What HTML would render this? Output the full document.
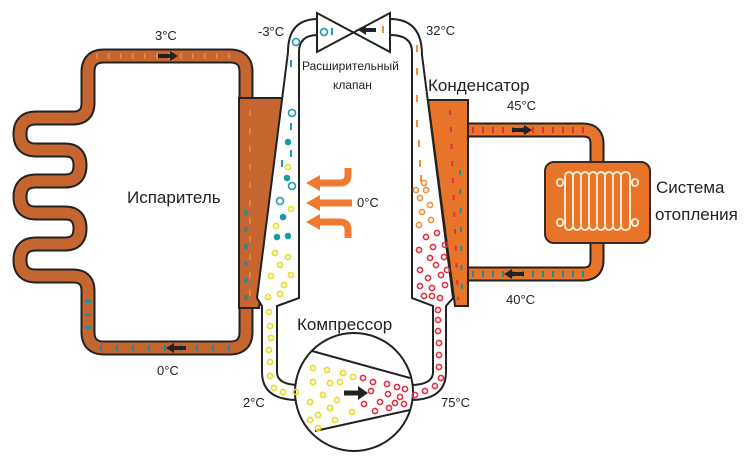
<!DOCTYPE html>
<html><head><meta charset="utf-8"><style>
html,body{margin:0;padding:0;background:#fff;width:750px;height:465px;overflow:hidden}
svg text{font-family:"Liberation Sans",sans-serif;fill:#222}
</style></head><body>
<svg id="s" width="750" height="465" viewBox="0 0 750 465" xmlns="http://www.w3.org/2000/svg">
<!-- left loop -->
<g fill="none" stroke-linejoin="round">
<path d="M246,110 L246,72 Q246,56 230,56 L104,56 Q88,56 88,72 L88,103 Q88,118 73,118 L36,118 Q20,118 20,134 Q20,150 36,150 L65,150 Q80,150 80,165.5 Q80,181 65,181 L36,181 Q20,181 20,197 Q20,213 36,213 L65,213 Q80,213 80,228.5 Q80,244 65,244 L36,244 Q20,244 20,260 Q20,276 36,276 L73,276 Q88,276 88,291 L88,332 Q88,348 104,348 L230,348 Q246,348 246,332 L246,290" stroke="#222" stroke-width="15"/>
<path d="M246,110 L246,72 Q246,56 230,56 L104,56 Q88,56 88,72 L88,103 Q88,118 73,118 L36,118 Q20,118 20,134 Q20,150 36,150 L65,150 Q80,150 80,165.5 Q80,181 65,181 L36,181 Q20,181 20,197 Q20,213 36,213 L65,213 Q80,213 80,228.5 Q80,244 65,244 L36,244 Q20,244 20,260 Q20,276 36,276 L73,276 Q88,276 88,291 L88,332 Q88,348 104,348 L230,348 Q246,348 246,332 L246,290" stroke="#c5652f" stroke-width="11"/>
<path d="M96,56 L240,56" stroke="#e8803a" stroke-width="6" stroke-dasharray="2 10"/>
<path d="M100,348 L240,348" stroke="#1a8f9a" stroke-width="6" stroke-dasharray="2 14"/>
<path d="M88,300 L88,335" stroke="#1a8f9a" stroke-width="6" stroke-dasharray="3 10"/>
</g>
<polygon points="239,98 283,98 259,308 239,308" fill="#c5652f" stroke="#222" stroke-width="2"/>
<path d="M246,110 L246,300" stroke="#c5652f" stroke-width="11"/>
<path d="M250,110 L250,300" stroke="#e8803a" stroke-width="2" stroke-dasharray="6 12"/>
<path d="M246,210 L246,300" stroke="#1a8f9a" stroke-width="3" stroke-dasharray="5 12"/>
<path d="M158,56 L172,56" stroke="#222" stroke-width="4"/><polygon points="170,51 178,56 170,61" fill="#222"/>
<path d="M186,348 L172,348" stroke="#222" stroke-width="4"/><polygon points="174,343 166,348 174,353" fill="#222"/>

<!-- right loop -->
<g fill="none">
<path d="M466,130 L583,130 Q597,130 597,144 L597,164" stroke="#222" stroke-width="15"/>
<path d="M466,130 L583,130 Q597,130 597,144 L597,164" stroke="#e8742a" stroke-width="11"/>
<path d="M597,241 L597,260 Q597,274 583,274 L466,274" stroke="#222" stroke-width="15"/>
<path d="M597,241 L597,260 Q597,274 583,274 L466,274" stroke="#e8742a" stroke-width="11"/>
<path d="M472,130 L590,130" stroke="#e03040" stroke-width="6" stroke-dasharray="2 8"/>
<path d="M472,274 L590,274" stroke="#1a8f9a" stroke-width="6" stroke-dasharray="2 8"/>
</g>
<path d="M512,130 L526,130" stroke="#222" stroke-width="4"/><polygon points="524,125 532,130 524,135" fill="#222"/>
<path d="M524,274 L510,274" stroke="#222" stroke-width="4"/><polygon points="512,269 504,274 512,279" fill="#222"/>
<polygon points="428,100 468,100 468,306 455,306" fill="#e8742a" stroke="#222" stroke-width="2"/>
<path d="M450,110 L458,300" stroke="#e03040" stroke-width="2" stroke-dasharray="5 12"/>
<path d="M460,170 L462,300" stroke="#1a8f9a" stroke-width="2" stroke-dasharray="5 14"/>
<rect x="545" y="162" width="105" height="81" rx="9" fill="#e8742a" stroke="#3a2a20" stroke-width="2"/>
<g fill="none" stroke="#fde8c8" stroke-width="2">
<rect x="557" y="179" width="6" height="7" rx="3"/><rect x="632" y="179" width="6" height="7" rx="3"/>
<rect x="557" y="219" width="6" height="7" rx="3"/><rect x="632" y="219" width="6" height="7" rx="3"/>
<rect x="565" y="172" width="8" height="58" rx="4"/><rect x="573" y="172" width="8" height="58" rx="4"/>
<rect x="581" y="172" width="8" height="58" rx="4"/><rect x="589" y="172" width="8" height="58" rx="4"/>
<rect x="597" y="172" width="8" height="58" rx="4"/><rect x="605" y="172" width="8" height="58" rx="4"/>
<rect x="613" y="172" width="8" height="58" rx="4"/><rect x="621" y="172" width="9" height="58" rx="4"/>
</g>

<!-- central tubes -->
<path d="M318,19 Q288,19 288,52 L257,298 L262,306 L262,372 Q262,400 298,400 L300,385 Q277,385 277,372 L277,306 L299,298 L299,52 Q299,35 318,35 Z" fill="#fff" stroke="#222" stroke-width="2"/>
<path d="M390,19 Q422,19 422,55 L453,298 L446,306 L446,372 Q446,400 410,400 L410,385 Q433,385 433,372 L433,306 L412,298 L412,52 Q412,35 390,35 Z" fill="#fff" stroke="#222" stroke-width="2"/>
<polygon points="317,13 317,52 390,13 390,52" fill="#fff" stroke="#222" stroke-width="2"/>
<path d="M376,30 L364,30" stroke="#222" stroke-width="4"/><polygon points="366,25 358,30 366,35" fill="#222"/>
<circle cx="354" cy="392" r="59" fill="#fff" stroke="#222" stroke-width="2"/>
<line x1="312" y1="351" x2="410" y2="378" stroke="#222" stroke-width="2"/>
<line x1="315" y1="431" x2="410" y2="410" stroke="#222" stroke-width="2"/>
<path d="M344,393 L360,393" stroke="#222" stroke-width="5"/><polygon points="358,386 368,393 358,400" fill="#222"/>
<g id="dots"></g>

<!-- air arrows -->
<g fill="none" stroke="#f07a30" stroke-width="7">
<path d="M318,183 L340,183 Q348,183 348,175 L348,168"/>
<path d="M318,203 L352,203"/>
<path d="M318,222 L340,222 Q348,222 348,230 L348,238"/>
</g>
<g fill="#f07a30"><polygon points="306,183 320,175 320,191"/><polygon points="306,203 320,195 320,211"/><polygon points="306,222 320,214 320,230"/></g>

<!-- labels -->
<text x="155" y="40" font-size="13">3°C</text>
<text x="258" y="36" font-size="13">-3°C</text>
<text x="426" y="35" font-size="13">32°C</text>
<text x="302" y="70" font-size="12">Расширительный</text>
<text x="333" y="89" font-size="12">клапан</text>
<text x="428" y="91" font-size="17">Конденсатор</text>
<text x="507" y="110" font-size="13">45°C</text>
<text x="656" y="193" font-size="17">Система</text>
<text x="655" y="220" font-size="17">отопления</text>
<text x="506" y="304" font-size="13">40°C</text>
<text x="127" y="203" font-size="17">Испаритель</text>
<text x="357" y="207" font-size="13">0°C</text>
<text x="297" y="330" font-size="17">Компрессор</text>
<text x="243" y="407" font-size="13">2°C</text>
<text x="441" y="407" font-size="13">75°C</text>
<text x="157" y="375" font-size="13">0°C</text>
</svg>
<script>
var g=document.getElementById('dots'),NS='http://www.w3.org/2000/svg';
function c(x,y,col,r,fill){var e=document.createElementNS(NS,'circle');e.setAttribute('cx',x);e.setAttribute('cy',y);e.setAttribute('r',r||2.6);e.setAttribute('fill',fill?col:'none');e.setAttribute('stroke',col);e.setAttribute('stroke-width',1.6);g.appendChild(e);}
function d(x,y,col,h){var e=document.createElementNS(NS,'line');e.setAttribute('x1',x);e.setAttribute('y1',y);e.setAttribute('x2',x);e.setAttribute('y2',y+(h||7));e.setAttribute('stroke',col);e.setAttribute('stroke-width',2);g.appendChild(e);}
var T='#1a9aaa',Y='#e6dc20',R='#e03040',O='#e8923a';
c(296,42,T,3.5);c(324,32,T,3.5);d(332,28,T);d(291,60,T);
c(292,113,T,3.5);d(291,123,T);c(288,142,T,2.5,1);d(291,150,T);d(282,160,T);c(288,167,Y);c(287,178,T,2.5,1);c(292,186,T,3.5);c(280,201,T,3.5);c(291,209,Y);c(283,217,T,2.5,1);c(276,226,Y);c(277,237,T,2.5,1);c(288,236,T,2.5,1);
var yl=[[275,253],[288,257],[280,265],[291,275],[271,276],[284,285],[268,297],[280,294],[269,312],[270,326],[271,338],[269,350],[270,362],[270,376],[274,388],[283,392],[296,392],[313,368],[327,370],[313,382],[330,383],[343,373],[340,382],[310,402],[323,395],[330,408],[318,415],[337,400],[310,420],[335,420],[352,412],[318,428],[353,377]];
yl.forEach(function(p){c(p[0],p[1],Y);});
var rd=[[363,378],[373,382],[387,384],[397,387],[405,389],[371,391],[388,394],[400,397],[364,404],[380,402],[395,403],[375,411],[389,408],[404,404],[415,395],[425,391],[435,386],[441,378],[439,367],[439,355],[439,343],[438,331],[438,320],[438,310],[424,296],[432,296],[440,298],[420,286],[432,288],[445,285],[428,278],[441,275],[420,270],[436,265],[447,270],[430,258],[444,257],[419,250],[433,247],[445,245],[426,237],[437,233]];
rd.forEach(function(p){c(p[0],p[1],R);});
[[416,190],[426,190],[420,198],[430,205],[422,212],[431,220],[419,225],[424,183]].forEach(function(p){c(p[0],p[1],O);});
d(383,26,O);d(417,45,O);d(417,68,O);d(417,95,O);d(417,120,O);d(419,140,O);d(420,160,O);d(421,175,O);
</script>
</body></html>
